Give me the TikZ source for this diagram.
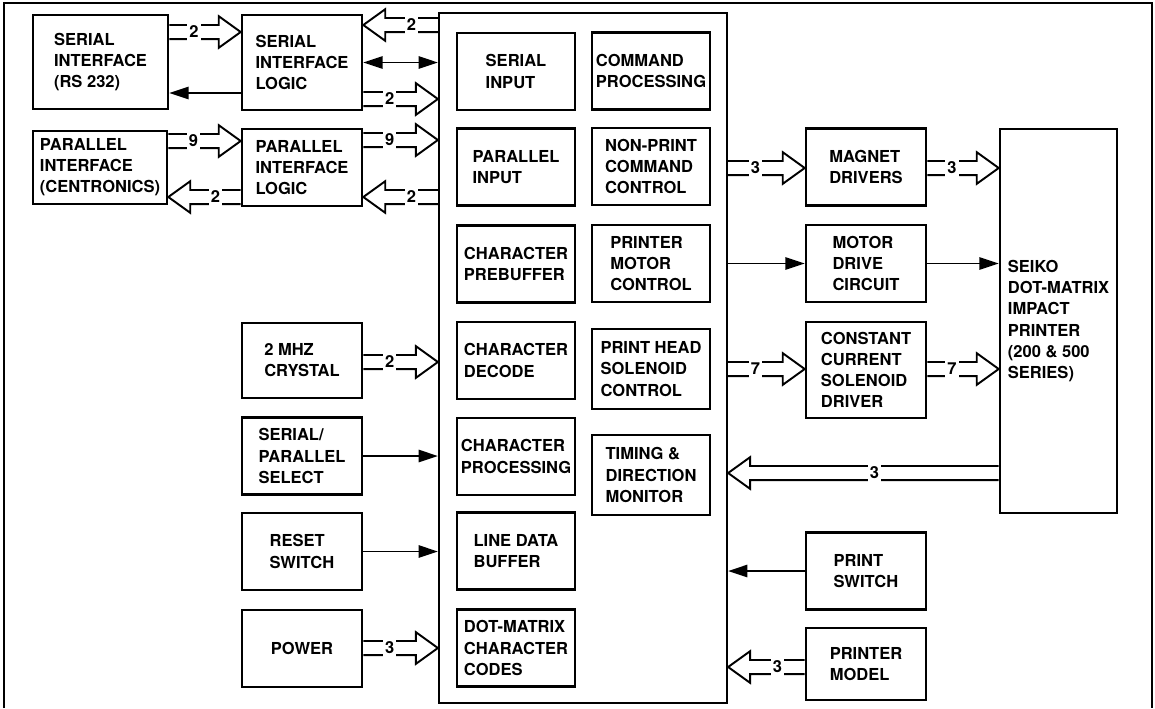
\documentclass[tikz,border=0pt]{standalone}
\usepackage{fontspec}
\setmainfont{TeX Gyre Heros}
\usetikzlibrary{arrows.meta, calc}

% hollow bus arrow: start anchor, tip anchor, row (px), bus width
\newcommand{\bus}[4]{%
  \draw[busline] let \p1=(#1 |- 0,#3), \p2=(#2 |- 0,#3),
      \n1={sign(\x2-\x1)} in
    (\x1,\y1+4pt) -- ({\x2-\n1*12.5pt},\y1+4pt)
      -- ({\x2-\n1*12.5pt},\y1+9pt) -- (\x2,\y1)
      -- ({\x2-\n1*12.5pt},\y1-9pt) -- ({\x2-\n1*12.5pt},\y1-4pt)
      -- (\x1,\y1-4pt)
    node[buslabel] at ({(\x1+\x2-\n1*12.5pt)/2},\y1) {#4};
}

\begin{document}
\begin{tikzpicture}[
  x=0.02cm, y=-0.02cm,
  every node/.style={font=\bfseries\fontsize{9.4}{12}\selectfont},
  blk/.style={draw, line width=1.5pt, align=left, inner sep=1pt,
              minimum width=2.4cm, minimum height=1.54cm},
  inblk/.style={blk, minimum width=2.36cm},
  sig/.style={-{Triangle[length=11pt,width=7pt]}, line width=1.1pt},
  sigboth/.style={{Triangle[length=11pt,width=7pt]}-{Triangle[length=11pt,width=7pt]},
                  line width=1.1pt},
  busline/.style={line width=1.1pt, line join=miter},
  buslabel/.style={fill=white, inner sep=1.2pt, minimum height=11pt}
]
\useasboundingbox (0,0) rectangle (1155,708);
\fill[white] (0,0) rectangle (1155,708);

% frame
\draw[line width=0.8pt] (4,708) -- (4,3) -- (1152,3) -- (1152,708);

%% interfaces
\node[blk, minimum width=2.7cm, minimum height=1.88cm]
  (sif) at (100.5,62) {SERIAL\\INTERFACE\\(RS 232)};
\node[blk, minimum width=2.68cm, minimum height=1.46cm]
  (pif) at (100,167.5) {PARALLEL\\INTERFACE\\(CENTRONICS)};
\node[blk, minimum height=1.9cm] (sil) at (302,62.5) {SERIAL\\INTERFACE\\LOGIC};
\node[blk] (pil)  at (302,167.5) {PARALLEL\\INTERFACE\\LOGIC};
\node[blk, minimum height=1.5cm] (xtal) at (302,360.5) {2 MHZ\\CRYSTAL};
\node[blk] (sel)  at (302,456)   {SERIAL/\\PARALLEL\\SELECT};
\node[blk] (rst)  at (302,551.5) {RESET\\SWITCH};
\node[blk] (pwr)  at (302,648.5) {POWER};

%% controller
\node[draw, line width=1.3pt, minimum width=5.76cm, minimum height=13.8cm]
  (ctrl) at (583,358) {};

% left column
\node[inblk] (sin)  at (516,71.5)  {SERIAL\\INPUT};
\node[inblk] (pin)  at (516,167)   {PARALLEL\\INPUT};
\node[inblk] (pre)  at (516,264)   {CHARACTER\\PREBUFFER};
\node[inblk] (dec)  at (516,360.5) {CHARACTER\\DECODE};
\node[inblk] (proc) at (516,456.5) {CHARACTER\\PROCESSING};
\node[inblk] (ldb)  at (516,551)   {LINE DATA\\BUFFER};
\node[inblk] (dmc)  at (516,648)   {DOT-MATRIX\\CHARACTER\\CODES};

% right column
\node[inblk] (cmd) at (651,71)    {COMMAND\\PROCESSING};
\node[inblk] (npc) at (651,166.5) {NON-PRINT\\COMMAND\\CONTROL};
\node[inblk] (pmc) at (651,263.5) {PRINTER\\MOTOR\\CONTROL};
\node[inblk, minimum height=1.6cm] (phc) at (651,369) {PRINT HEAD\\SOLENOID\\CONTROL};
\node[inblk, minimum height=1.6cm] (tdm) at (651,475) {TIMING \&\\DIRECTION\\MONITOR};

%% printer side
\node[blk] (mag)  at (866,167)   {MAGNET\\DRIVERS};
\node[blk] (mdc)  at (866,263.5) {MOTOR\\DRIVE\\CIRCUIT};
\node[blk, minimum height=1.92cm] (ccs) at (866,370) {CONSTANT\\CURRENT\\SOLENOID\\DRIVER};
\node[blk] (psw)  at (866,571)   {PRINT\\SWITCH};
\node[blk, minimum height=1.44cm] (pmod) at (866,664) {PRINTER\\MODEL};
\node[blk, minimum width=2.34cm, minimum height=7.68cm]
  (prn) at (1058.5,321) {SEIKO\\DOT-MATRIX\\IMPACT\\PRINTER\\(200 \& 500\\SERIES)};

%% buses
\bus{sif.east}{sil.west}{32}{2}
\bus{ctrl.west}{sil.east}{25}{2}
\bus{sil.east}{ctrl.west}{99}{2}
\bus{pif.east}{pil.west}{141}{9}
\bus{pil.east}{ctrl.west}{140}{9}
\bus{pil.west}{pif.east}{197}{2}
\bus{ctrl.west}{pil.east}{197}{2}
\bus{xtal.east}{ctrl.west}{362}{2}
\bus{pwr.east}{ctrl.west}{648}{3}
\bus{ctrl.east}{mag.west}{168}{3}
\bus{mag.east}{prn.west}{168}{3}
\bus{ctrl.east}{ccs.west}{369}{7}
\bus{ccs.east}{prn.west}{369}{7}
\bus{prn.west}{ctrl.east}{473}{3}
\bus{pmod.west}{ctrl.east}{667}{3}

%% single lines
\draw[sigboth] (sil.east) -- (sil.east -| ctrl.west);
\draw[sig] (sil.west |- 0,93) -- (sif.east |- 0,93);
\draw[sig] (sel.east) -- (sel.east -| ctrl.west);
\draw[sig] (rst.east) -- (rst.east -| ctrl.west);
\draw[sig] (ctrl.east |- mdc.west) -- (mdc.west);
\draw[sig] (mdc.east) -- (mdc.east -| prn.west);
\draw[sig] (psw.west) -- (psw.west -| ctrl.east);

\end{tikzpicture}
\end{document}
